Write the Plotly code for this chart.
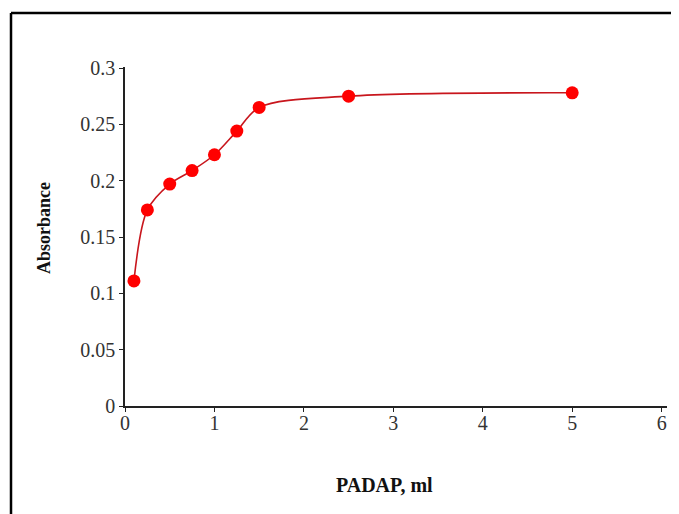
import plotly.graph_objects as go

# Data
padap_ml = [0.1, 0.25, 0.5, 0.75, 1.0, 1.25, 1.5, 2.5, 5.0]
absorbance = [0.111, 0.174, 0.197, 0.209, 0.223, 0.244, 0.265, 0.275, 0.278]

x_ticks = [0, 1, 2, 3, 4, 5, 6]
x_tick_labels = ["0", "1", "2", "3", "4", "5", "6"]
y_ticks = [0, 0.05, 0.1, 0.15, 0.2, 0.25, 0.3]
y_tick_labels = ["0", "0.05", "0.1", "0.15", "0.2", "0.25", "0.3"]

OFF = 8  # page body margin
W, H = 679 - OFF, 514 - OFF
L, T = 125 - OFF, 67 - OFF
R = W - (667 - OFF)
B = H - (406 - OFF)
pw, ph = W - L - R, H - T - B

def px_to_paper_x(px):
    return (px - OFF - L) / pw

def px_to_paper_y(py):
    return (H - B - (py - OFF)) / ph

font_family = "Liberation Serif, Times New Roman, serif"

fig = go.Figure()
fig.add_trace(go.Scatter(
    x=padap_ml, y=absorbance,
    mode="lines+markers",
    line=dict(color="#c8161d", width=1.6, shape="spline", smoothing=0.9),
    marker=dict(color="#ff0000", size=13, line=dict(width=0)),
    showlegend=False,
))

fig.update_layout(
    width=W, height=H,
    margin=dict(l=L, r=R, t=T, b=B),
    paper_bgcolor="white", plot_bgcolor="white",
    font=dict(family=font_family, size=20, color="#222"),
    xaxis=dict(
        range=[0, 6.06], tickvals=x_ticks, ticktext=x_tick_labels,
        showgrid=False, zeroline=False, showline=True,
        linecolor="#222", linewidth=1.6,
        ticks="outside", ticklen=4, tickwidth=1.4, tickcolor="#222",
        ticklabelstandoff=-6,
        tickfont=dict(size=20, family=font_family, color="#333"),
        fixedrange=True,
    ),
    yaxis=dict(
        range=[0, 0.30089], tickvals=y_ticks, ticktext=y_tick_labels,
        showgrid=False, zeroline=False, showline=True,
        linecolor="#222", linewidth=1.6,
        ticks="outside", ticklen=4, tickwidth=1.4, tickcolor="#222",
        tickfont=dict(size=20, family=font_family, color="#333"),
        fixedrange=True,
    ),
    annotations=[
        dict(text="<b>PADAP, ml</b>", xref="paper", yref="paper",
             x=px_to_paper_x(384), y=px_to_paper_y(485),
             showarrow=False, xanchor="center", yanchor="middle",
             font=dict(size=20, family=font_family, color="#111")),
        dict(text="<b>Absorbance</b>", xref="paper", yref="paper",
             x=px_to_paper_x(44), y=px_to_paper_y(228), textangle=-90,
             showarrow=False, xanchor="center", yanchor="middle",
             font=dict(size=18, family=font_family, color="#111")),
    ],
    shapes=[
        dict(type="line", xref="paper", yref="paper",
             x0=px_to_paper_x(11), x1=px_to_paper_x(700),
             y0=px_to_paper_y(13), y1=px_to_paper_y(13),
             line=dict(color="black", width=2.5)),
        dict(type="line", xref="paper", yref="paper",
             x0=px_to_paper_x(11), x1=px_to_paper_x(11),
             y0=px_to_paper_y(13), y1=px_to_paper_y(540),
             line=dict(color="black", width=2.5)),
    ],
)

fig.write_html("out.html", config=dict(displayModeBar=False))
